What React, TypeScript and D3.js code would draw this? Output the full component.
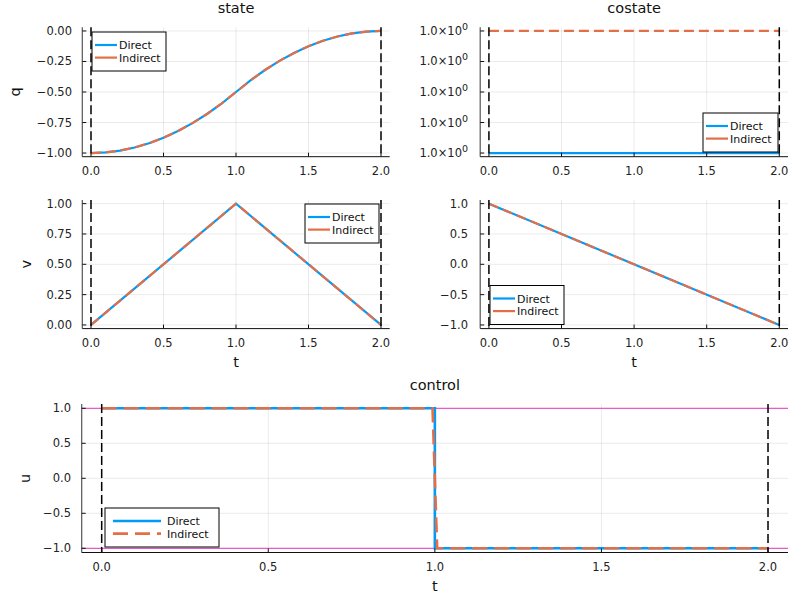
import React from "react";
import * as d3 from "d3";

// ── Data ──────────────────────────────────────────────────────
const T_Q = [0, 0.1, 0.2, 0.3, 0.4, 0.5, 0.6, 0.7, 0.8, 0.9, 1.0, 1.1, 1.2, 1.3, 1.4, 1.5, 1.6, 1.7, 1.8, 1.9, 2.0];
const Q_DIRECT = [-1, -0.995, -0.98, -0.955, -0.92, -0.875, -0.82, -0.755, -0.68, -0.595, -0.5, -0.405, -0.32, -0.245, -0.18, -0.125, -0.08, -0.045, -0.02, -0.005, 0];
const Q_INDIRECT = [-1, -0.995, -0.98, -0.955, -0.92, -0.875, -0.82, -0.755, -0.68, -0.595, -0.5, -0.405, -0.32, -0.245, -0.18, -0.125, -0.08, -0.045, -0.02, -0.005, 0];

const T_V = [0, 1, 2];
const V_DIRECT = [0, 1, 0];
const V_INDIRECT = [0, 1, 0];

// costate p1: constant 1, the two runs differ by a few ulps (shown as offsets)
const T_P1 = [0, 2];
const P1_DIRECT = [0, 0];
const P1_INDIRECT = [4, 4];
const P1_TICKS = [0, 1, 2, 3, 4];

const T_P2 = [0, 2];
const P2_DIRECT = [1, -1];
const P2_INDIRECT = [1, -1];

const T_U_DIRECT = [0, 1, 1, 2];
const U_DIRECT = [1, 1, -1, -1];
const T_U_INDIRECT = [0, 0.993, 1.007, 2];
const U_INDIRECT = [1, 1, -1, -1];

const U_BOUNDS = [1, -1];
const T_BOUNDS = [0, 2];

const X_TICKS = [0, 0.5, 1, 1.5, 2];
const Q_TICKS = [-1, -0.75, -0.5, -0.25, 0];
const V_TICKS = [0, 0.25, 0.5, 0.75, 1];
const PM_TICKS = [-1, -0.5, 0, 0.5, 1];

// ── Style ─────────────────────────────────────────────────────
const BLUE = "#009AFA";
const ORANGE = "#E36F47";
const PINK = "#EA5BC8";
const FONT = "DejaVu Sans, sans-serif";

const minus = (s: string) => s.replace("-", "\u2212");

interface Series {
  t: number[];
  y: number[];
  color: string;
  width: number;
  dash?: string;
}

interface LegendSpec {
  x: number;
  y: number;
  w: number;
  line: number;
  dashLegend: boolean;
}

interface PanelProps {
  left: number;
  right: number;
  top: number;
  bottom: number;
  yDomain: [number, number];
  yTicks: number[];
  yFormat: (v: number) => React.ReactNode;
  tickEnd: number;
  title?: string;
  xLabel?: string;
  yLabel?: string;
  yLabelX?: number;
  series: Series[];
  hlines?: number[];
  legend: LegendSpec;
  lw: number;
}

function Panel(p: PanelProps) {
  const x = d3.scaleLinear().domain([-0.06, 2.06]).range([p.left, p.right]);
  const y = d3.scaleLinear().domain(p.yDomain).range([p.bottom, p.top]);

  const pathFor = (s: Series) =>
    d3
      .line<number>()
      .x((_d, i) => x(s.t[i]))
      .y((d) => y(d))(s.y) ?? "";

  const midX = (p.left + p.right) / 2;
  const midY = (p.top + p.bottom) / 2;
  const lg = p.legend;
  const lineX = lg.x + 3 + (lg.line > 30 ? 5 : 0);

  return (
    <g fontFamily={FONT}>
      {/* grid */}
      {X_TICKS.map((t) => (
        <line key={"gx" + t} x1={x(t)} x2={x(t)} y1={p.top} y2={p.bottom} stroke="#000" strokeOpacity={0.1} strokeWidth={0.8} />
      ))}
      {p.yTicks.map((t) => (
        <line key={"gy" + t} x1={p.left} x2={p.right} y1={y(t)} y2={y(t)} stroke="#000" strokeOpacity={0.1} strokeWidth={0.8} />
      ))}

      {/* bounds */}
      {(p.hlines ?? []).map((h) => (
        <line key={"h" + h} x1={p.left} x2={p.right} y1={y(h)} y2={y(h)} stroke={PINK} strokeWidth={1.3} />
      ))}

      {/* series */}
      {p.series.map((s, i) => (
        <path key={i} d={pathFor(s)} fill="none" stroke={s.color} strokeWidth={s.width} strokeDasharray={s.dash} />
      ))}

      {/* time bounds */}
      {T_BOUNDS.map((t) => (
        <line key={"v" + t} x1={x(t)} x2={x(t)} y1={p.top} y2={p.bottom} stroke="#000" strokeWidth={1.5} strokeDasharray="9 4" />
      ))}

      {/* axes */}
      <line x1={p.left} x2={p.left} y1={p.top} y2={p.bottom} stroke="#555" strokeWidth={1.2} />
      <line x1={p.left} x2={p.right} y1={p.bottom} y2={p.bottom} stroke="#111" strokeWidth={1} />
      {X_TICKS.map((t) => (
        <g key={"xt" + t}>
          <line x1={x(t)} x2={x(t)} y1={p.bottom} y2={p.bottom - 4} stroke="#111" strokeWidth={1} />
          <text x={x(t)} y={p.bottom + 18} fontSize={11.5} textAnchor="middle" fill="#222">
            {d3.format(".1f")(t)}
          </text>
        </g>
      ))}
      {p.yTicks.map((t) => (
        <g key={"yt" + t}>
          <line x1={p.left} x2={p.left + 4} y1={y(t)} y2={y(t)} stroke="#111" strokeWidth={1} />
          <text x={p.tickEnd} y={y(t) + 4} fontSize={11.5} textAnchor="end" fill="#222">
            {p.yFormat(t)}
          </text>
        </g>
      ))}

      {p.title && (
        <text x={midX} y={p.top - 14} fontSize={14.5} textAnchor="middle" fill="#111">
          {p.title}
        </text>
      )}
      {p.xLabel && (
        <text x={midX} y={p.bottom + 38} fontSize={14.5} textAnchor="middle" fill="#111">
          {p.xLabel}
        </text>
      )}
      {p.yLabel && (
        <text
          x={p.yLabelX}
          y={midY}
          fontSize={14.5}
          textAnchor="middle"
          dominantBaseline="central"
          transform={`rotate(-90 ${p.yLabelX} ${midY})`}
          fill="#111"
        >
          {p.yLabel}
        </text>
      )}

      {/* legend */}
      <g>
        <rect x={lg.x} y={lg.y} width={lg.w} height={39} fill="#fff" stroke="#000" strokeWidth={1} />
        {p.series.map((s, i) => {
          const ry = lg.y + 13 + i * 12.6;
          return (
            <g key={"lg" + i}>
              <line
                x1={lineX}
                x2={lineX + lg.line}
                y1={ry}
                y2={ry}
                stroke={s.color}
                strokeWidth={p.lw}
                strokeDasharray={lg.dashLegend && s.dash ? s.dash : undefined}
              />
              <text x={lg.x + 3 + (lg.line > 30 ? 11 : 2) + lg.line} y={ry + 4} fontSize={11} fill="#111">
                {i === 0 ? "Direct" : "Indirect"}
              </text>
            </g>
          );
        })}
      </g>
    </g>
  );
}

const f2 = (v: number) => minus(d3.format(".2f")(v));
const f1 = (v: number) => minus(d3.format(".1f")(v));
const sci = () => (
  <>
    1.0×10
    <tspan dy={-5} fontSize={9.5}>0</tspan>
  </>
);

export default function App() {
  const small = (t: number[], d: number[], i: number, width = 2.2): Series =>
    i === 0
      ? { t, y: d, color: BLUE, width }
      : { t, y: d, color: ORANGE, width, dash: "10 5" };

  return (
    <svg width={800} height={600} style={{ position: "absolute", left: 0, top: 0, background: "#fff" }}>
      <rect width={800} height={600} fill="#fff" />
      <Panel
        left={82.3}
        right={389.7}
        top={27.3}
        bottom={156.7}
        yDomain={[-1.03, 0.03]}
        yTicks={Q_TICKS}
        yFormat={f2}
        tickEnd={72}
        title="state"
        yLabel="q"
        yLabelX={15}
        series={[small(T_Q, Q_DIRECT, 0), small(T_Q, Q_INDIRECT, 1)]}
        legend={{ x: 92, y: 32, w: 74, line: 22, dashLegend: false }}
        lw={2.2}
      />
      <Panel
        left={480.2}
        right={788}
        top={27.3}
        bottom={156.7}
        yDomain={[-0.12, 4.12]}
        yTicks={P1_TICKS}
        yFormat={sci}
        tickEnd={468}
        title="costate"
        series={[small(T_P1, P1_DIRECT, 0), small(T_P1, P1_INDIRECT, 1)]}
        legend={{ x: 703, y: 113, w: 75, line: 22, dashLegend: false }}
        lw={2.2}
      />
      <Panel
        left={82.3}
        right={389.7}
        top={200}
        bottom={328.6}
        yDomain={[-0.03, 1.03]}
        yTicks={V_TICKS}
        yFormat={f2}
        tickEnd={72}
        xLabel="t"
        yLabel="v"
        yLabelX={26}
        series={[small(T_V, V_DIRECT, 0), small(T_V, V_INDIRECT, 1)]}
        legend={{ x: 305, y: 204, w: 74, line: 22, dashLegend: false }}
        lw={2.2}
      />
      <Panel
        left={480.2}
        right={788}
        top={200}
        bottom={328.6}
        yDomain={[-1.06, 1.06]}
        yTicks={PM_TICKS}
        yFormat={f1}
        tickEnd={468}
        xLabel="t"
        series={[small(T_P2, P2_DIRECT, 0), small(T_P2, P2_INDIRECT, 1)]}
        legend={{ x: 490, y: 285.5, w: 74, line: 22, dashLegend: false }}
        lw={2.2}
      />
      <Panel
        left={81.7}
        right={788}
        top={404.1}
        bottom={552.5}
        yDomain={[-1.06, 1.06]}
        yTicks={PM_TICKS}
        yFormat={f1}
        tickEnd={71}
        title="control"
        xLabel="t"
        yLabel="u"
        yLabelX={25}
        hlines={U_BOUNDS}
        series={[
          { t: T_U_DIRECT, y: U_DIRECT, color: BLUE, width: 2.6 },
          { t: T_U_INDIRECT, y: U_INDIRECT, color: ORANGE, width: 2.6, dash: "15 7" },
        ]}
        legend={{ x: 105, y: 508, w: 114, line: 48, dashLegend: true }}
        lw={2.6}
      />
    </svg>
  );
}
